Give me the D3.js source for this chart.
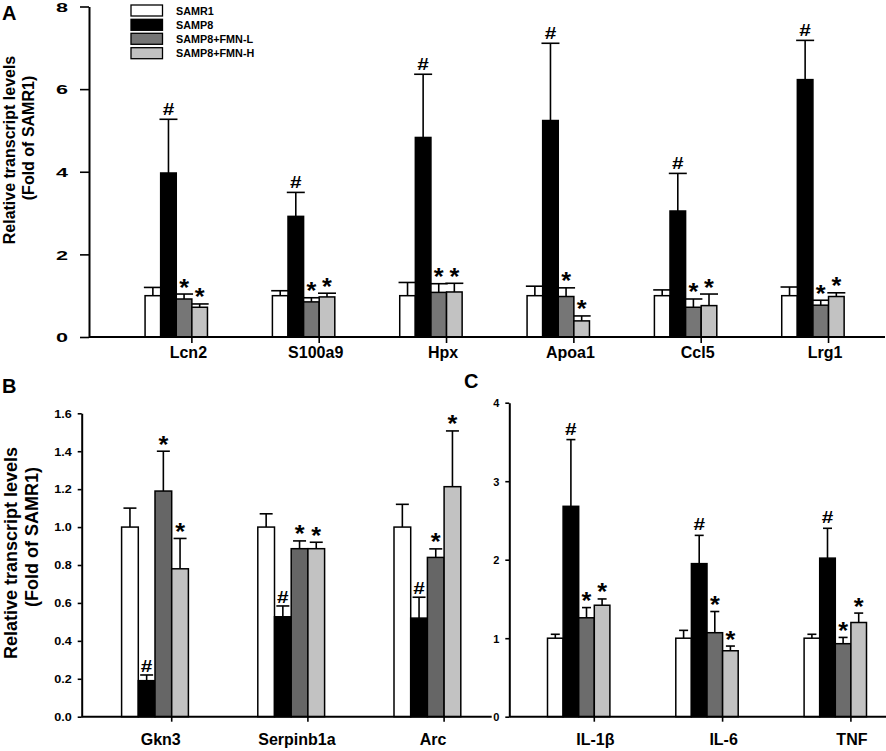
<!DOCTYPE html>
<html>
<head>
<meta charset="utf-8">
<script src="https://cdn.jsdelivr.net/npm/d3@7"></script>
<style>
  html, body { margin: 0; padding: 0; background: #fff; }
  svg { display: block; font-family: "Liberation Sans", Arial, sans-serif; }
</style>
</head>
<body>
<svg id="chart" width="886" height="751"></svg>
<script>
// ---------- data ----------
const series = ["SAMR1", "SAMP8", "SAMP8+FMN-L", "SAMP8+FMN-H"];

// Panel A
const catsA = ["Lcn2", "S100a9", "Hpx", "Apoa1", "Ccl5", "Lrg1"];
const meanA_SAMR1 = [1.00, 1.00, 1.00, 1.00, 1.00, 1.00];
const errA_SAMR1  = [0.20, 0.12, 0.32, 0.23, 0.14, 0.21];
const meanA_SAMP8 = [3.97, 2.92, 4.83, 5.24, 3.05, 6.23];
const errA_SAMP8  = [1.30, 0.58, 1.53, 1.87, 0.91, 0.95];
const meanA_L     = [0.92, 0.85, 1.08, 0.98, 0.72, 0.77];
const errA_L      = [0.12, 0.10, 0.21, 0.21, 0.20, 0.12];
const meanA_H     = [0.72, 0.97, 1.09, 0.39, 0.76, 0.98];
const errA_H      = [0.08, 0.09, 0.21, 0.12, 0.28, 0.09];
const ticksA = [0, 2, 4, 6, 8];

// Panel B
const catsB = ["Gkn3", "Serpinb1a", "Arc"];
const meanB_SAMR1 = [1.00, 1.00, 1.00];
const errB_SAMR1  = [0.10, 0.07, 0.12];
const meanB_SAMP8 = [0.19, 0.527, 0.52];
const errB_SAMP8  = [0.03, 0.057, 0.11];
const meanB_L     = [1.19, 0.886, 0.84];
const errB_L      = [0.21, 0.041, 0.045];
const meanB_H     = [0.78, 0.886, 1.213];
const errB_H      = [0.16, 0.034, 0.294];
const ticksB = [0, 0.2, 0.4, 0.6, 0.8, 1.0, 1.2, 1.4, 1.6];

// Panel C
const catsC = ["IL-1β", "IL-6", "TNF"];
const meanC_SAMR1 = [1.00, 1.00, 1.00];
const errC_SAMR1  = [0.05, 0.10, 0.05];
const meanC_SAMP8 = [2.68, 1.95, 2.02];
const errC_SAMP8  = [0.85, 0.36, 0.38];
const meanC_L     = [1.26, 1.07, 0.93];
const errC_L      = [0.13, 0.27, 0.08];
const meanC_H     = [1.42, 0.84, 1.20];
const errC_H      = [0.08, 0.06, 0.12];
const ticksC = [0, 1, 2, 3, 4];

// significance marks per series (SAMR1, SAMP8, L, H)
const marks = ["", "#", "*", "*"];

// ---------- drawing ----------
const svg = d3.select("#chart");
svg.append("rect").attr("width", 886).attr("height", 751).attr("fill", "#fff");

function panel(cfg) {
  const g = svg.append("g");
  const y = d3.scaleLinear().domain([cfg.ticks[0], cfg.ticks[cfg.ticks.length - 1]]).range([cfg.yBottom, cfg.yTop]);
  const x0 = d3.scaleBand().domain(cfg.cats).range(cfg.xRange);
  const x1 = d3.scaleBand().domain(series).range([-2 * cfg.bw, 2 * cfg.bw]);
  const fills = ["#ffffff", "#000000", cfg.colL, "#c2c2c2"];

  const rows = [];
  cfg.cats.forEach((c, i) => series.forEach((s, j) => {
    rows.push({ c, s, j, v: cfg.means[j][i], e: cfg.errs[j][i], m: marks[j] });
  }));
  const cx = d => x0(d.c) + x0.bandwidth() / 2 + x1(d.s) + x1.bandwidth() / 2;

  // error bars (upper only)
  g.selectAll(".ev").data(rows).join("line")
    .attr("x1", cx).attr("x2", cx)
    .attr("y1", d => y(d.v)).attr("y2", d => y(d.v + d.e))
    .attr("stroke", "#000").attr("stroke-width", 1.6);
  g.selectAll(".ec").data(rows).join("line")
    .attr("x1", d => cx(d) - cfg.cap / 2).attr("x2", d => cx(d) + cfg.cap / 2)
    .attr("y1", d => y(d.v + d.e)).attr("y2", d => y(d.v + d.e))
    .attr("stroke", "#000").attr("stroke-width", 1.6);

  // bars
  g.selectAll(".bar").data(rows).join("rect")
    .attr("x", d => x0(d.c) + x0.bandwidth() / 2 + x1(d.s))
    .attr("width", x1.bandwidth())
    .attr("y", d => y(d.v))
    .attr("height", d => y(0) - y(d.v))
    .attr("fill", d => fills[d.j])
    .attr("stroke", "#000").attr("stroke-width", 1.5);

  // marks
  g.selectAll(".mk").data(rows.filter(d => d.m)).join("text")
    .attr("transform", d => {
      const yy = y(d.v + d.e) - (d.m === "#" ? cfg.hashGap : cfg.starGap);
      const sx = d.m === "#" ? 1.3 : 1.1;
      return `translate(${cx(d)},${yy}) scale(${sx},1)`;
    })
    .attr("text-anchor", "middle")
    .attr("font-weight", "bold")
    .attr("font-size", d => d.m === "#" ? cfg.hashSize : cfg.starSize)
    .text(d => d.m);

  // y axis
  const ya = g.append("g").attr("transform", `translate(${cfg.xAxisStart},0)`)
    .call(d3.axisLeft(y).tickValues(cfg.ticks).tickSize(cfg.tickLen).tickSizeOuter(0)
      .tickFormat(cfg.fmt));
  ya.select(".domain").attr("stroke-width", 2);
  ya.selectAll(".tick line").attr("stroke-width", 1.6);
  ya.selectAll(".tick text")
    .attr("x", 0)
    .attr("dy", "0.36em")
    .attr("transform", `translate(${-(cfg.tickLen + cfg.labPad)},0) scale(${cfg.labStretch},1)`)
    .attr("font-size", cfg.labSize)
    .attr("font-weight", cfg.labWeight)
    .attr("font-family", "Liberation Sans, Arial, sans-serif")
    .attr("fill", "#000");

  // x axis baseline
  g.append("line")
    .attr("x1", cfg.xAxisStart).attr("x2", cfg.xAxisEnd)
    .attr("y1", y(0)).attr("y2", y(0))
    .attr("stroke", "#000").attr("stroke-width", 2);
  const xa = g.append("g").attr("transform", `translate(${cfg.bw},${y(0)})`)
    .call(d3.axisBottom(x0).tickSize(cfg.xTickLen).tickSizeOuter(0));
  xa.select(".domain").remove();
  xa.selectAll(".tick line").attr("stroke-width", 1.6);
  xa.selectAll(".tick text")
    .attr("x", cfg.xLabOffset)
    .attr("y", cfg.xLabY)
    .attr("dy", 0)
    .attr("font-size", cfg.xLabSize)
    .attr("font-weight", "bold")
    .attr("font-family", "Liberation Sans, Arial, sans-serif")
    .attr("fill", "#000");

  // y title
  if (cfg.title) {
    cfg.title.forEach(t => {
      svg.append("text")
        .attr("transform", `translate(${t.x},${t.y}) rotate(-90)`)
        .attr("text-anchor", "middle")
        .attr("font-size", cfg.titleSize)
        .attr("font-weight", "bold")
        .text(t.text);
    });
  }
  svg.append("text").attr("x", cfg.letter.x).attr("y", cfg.letter.y)
    .attr("font-size", 20).attr("font-weight", "bold").text(cfg.letter.t);
}

panel({
  cats: catsA,
  means: [meanA_SAMR1, meanA_SAMP8, meanA_L, meanA_H],
  errs: [errA_SAMR1, errA_SAMP8, errA_L, errA_H],
  ticks: ticksA, fmt: d3.format("d"),
  yBottom: 337, yTop: 6.5,
  xRange: [112.6, 876.6], bw: 15.6, cap: 18,
  xAxisStart: 89, xAxisEnd: 885,
  tickLen: 9, labPad: 12, labSize: 13.5, labStretch: 1.6, labWeight: "bold",
  xTickLen: 6, xLabOffset: -3.5, xLabY: 21, xLabSize: 16,
  colL: "#767676",
  hashGap: 4, starGap: -1.5, hashSize: 16, starSize: 23,
  titleSize: 16,
  title: [{ x: 15, y: 150, text: "Relative transcript levels" }, { x: 34, y: 138, text: "(Fold of SAMR1)" }],
  letter: { x: 2, y: 20, t: "A" }
});

panel({
  cats: catsB,
  means: [meanB_SAMR1, meanB_SAMP8, meanB_L, meanB_H],
  errs: [errB_SAMR1, errB_SAMP8, errB_L, errB_H],
  ticks: ticksB, fmt: d3.format(".1f"),
  yBottom: 716.7, yTop: 413.3,
  xRange: [86.9, 495.5], bw: 16.7, cap: 13,
  xAxisStart: 81.7, xAxisEnd: 491.7,
  tickLen: 4, labPad: 6, labSize: 10.5, labStretch: 1.2, labWeight: "bold",
  xTickLen: 5, xLabOffset: -11, xLabY: 28, xLabSize: 16,
  colL: "#666666",
  hashGap: 3, starGap: -1.5, hashSize: 16, starSize: 23,
  titleSize: 18,
  title: [{ x: 17, y: 553, text: "Relative transcript levels" }, { x: 38, y: 537, text: "(Fold of SAMR1)" }],
  letter: { x: 2, y: 393, t: "B" }
});

panel({
  cats: catsC,
  means: [meanC_SAMR1, meanC_SAMP8, meanC_L, meanC_H],
  errs: [errC_SAMR1, errC_SAMP8, errC_L, errC_H],
  ticks: ticksC, fmt: d3.format("d"),
  yBottom: 716.7, yTop: 402.7,
  xRange: [514.55, 899.45], bw: 15.6, cap: 9,
  xAxisStart: 509.3, xAxisEnd: 886,
  tickLen: 4, labPad: 6, labSize: 11, labStretch: 1.0, labWeight: "bold",
  xTickLen: 5, xLabOffset: 1, xLabY: 28.5, xLabSize: 16,
  colL: "#6c6c6c",
  hashGap: 5, starGap: -1.5, hashSize: 16, starSize: 23,
  title: null,
  letter: { x: 464, y: 388, t: "C" }
});

// legend
const legend = svg.append("g");
const legY = [5, 19.3, 33.3, 47.7];
const legFill = ["#ffffff", "#000000", "#767676", "#c2c2c2"];
series.forEach((s, i) => {
  legend.append("rect").attr("x", 131).attr("y", legY[i]).attr("width", 31.5).attr("height", 11)
    .attr("fill", legFill[i]).attr("stroke", "#000").attr("stroke-width", 1.3);
  legend.append("text").attr("x", 176).attr("y", legY[i] + 9.5)
    .attr("font-size", 10.8).attr("font-weight", "bold").text(s);
});
</script>
</body>
</html>
